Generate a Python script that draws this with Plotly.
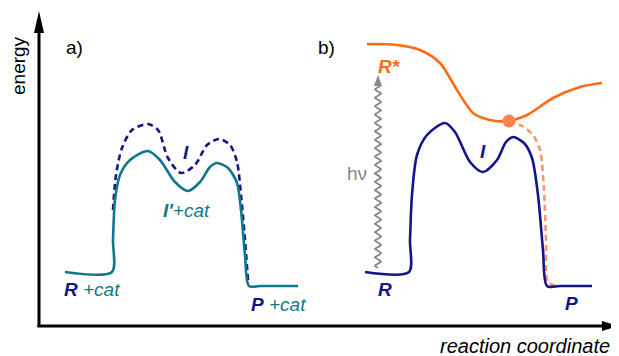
import numpy as np
import plotly.graph_objects as go

# ---- data (schematic energy profiles, x = reaction coordinate, y = drawn level) ----
# Panel a) catalysed pathway (solid teal) and uncatalysed pathway (dashed navy)
a_cat_x = [65, 112, 113, 115, 120, 130, 148, 160, 175, 188, 200, 210, 217, 228, 237, 241, 245, 249, 260, 298]
a_cat_y = [272, 272, 240, 200, 175, 160, 151, 160, 182, 191, 182, 167, 163, 168, 183, 210, 255, 286, 286, 286]
a_unc_x = [113, 116, 122, 132, 148, 158, 168, 181, 195, 207, 219, 230, 237, 241, 245, 248]
a_unc_y = [210, 175, 148, 130, 124, 130, 158, 173, 165, 145, 139, 145, 162, 195, 240, 280]

# Panel b) ground state (navy), excited state (orange), decay branch (dashed orange)
b_gs_x = [365, 409, 410, 412, 417, 427, 445, 455, 470, 483, 497, 506, 513, 524, 532, 538, 543, 547, 560, 592]
b_gs_y = [272, 272, 240, 195, 155, 135, 123, 132, 162, 172, 160, 142, 137, 143, 158, 195, 250, 286, 286, 286]
b_ex_x = [367, 397, 420, 440, 457, 473, 490, 507, 527, 553, 580, 602]
b_ex_y = [44, 45, 50, 63, 90, 113, 120, 121, 115, 98, 87, 83]
b_dec_x = [509, 522, 533, 540, 544, 546, 548, 557]
b_dec_y = [121, 126, 135, 150, 190, 240, 282, 286]
ci_x = [509]
ci_y = [121]

NAVY = "#14158a"
TEAL = "#11788a"
ORANGE = "#ff6a14"
LORANGE = "#ff9466"
GRAY = "#868686"
FONT = "Liberation Sans, Arial, sans-serif"
FS = 19
OFF = 8  # page body margin compensation

fig = go.Figure()

def line(x, y, color, dash="solid", width=2.6):
    fig.add_trace(go.Scatter(x=x, y=y, mode="lines",
                             line=dict(color=color, width=width, dash=dash,
                                       shape="spline", smoothing=0.8),
                             hoverinfo="skip", showlegend=False))

line(a_unc_x, a_unc_y, NAVY, dash="6px,4px")
line(a_cat_x, a_cat_y, TEAL)
line(b_dec_x, b_dec_y, LORANGE, dash="6px,4px")
line(b_gs_x, b_gs_y, NAVY)
line(b_ex_x, b_ex_y, ORANGE)
fig.add_trace(go.Scatter(x=ci_x, y=ci_y, mode="markers",
                         marker=dict(color="#f9844f", size=13, line=dict(width=0)),
                         hoverinfo="skip", showlegend=False))

# photon squiggle (hv) - decorative wavy arrow
wy = np.linspace(268, 86, 500)
wx = 378 + 3.0 * np.sin((wy - 268) / 8.4 * 2 * np.pi)
fig.add_trace(go.Scatter(x=wx, y=wy, mode="lines", line=dict(color=GRAY, width=1.8),
                         hoverinfo="skip", showlegend=False))
fig.add_shape(type="path", path="M 374 86 L 382 86 L 378 75 Z",
              fillcolor=GRAY, line=dict(width=0))

# axes
fig.add_shape(type="line", x0=39, y0=327, x1=39, y1=28, line=dict(color="black", width=3))
fig.add_shape(type="path", path="M 34 33 L 44 33 L 39 11 Z", fillcolor="black", line=dict(width=0))
fig.add_shape(type="line", x0=37.5, y0=326, x1=605, y1=326, line=dict(color="black", width=3))
fig.add_shape(type="path", path="M 602 321 L 602 331 L 618 326 Z", fillcolor="black", line=dict(width=0))

def txt(x, y, s, color="black", size=FS, xanchor="center", angle=0):
    fig.add_annotation(x=x, y=y, text=s, showarrow=False, xanchor=xanchor, yanchor="middle",
                       textangle=angle, font=dict(family=FONT, size=size, color=color))

txt(18, 66, "energy", angle=-90)
txt(64, 47, "a)", xanchor="left")
txt(316, 47, "b)", xanchor="left")
txt(612, 346, "<i>reaction coordinate</i>", size=20, xanchor="right")

txt(62, 289, f"<b><i>R</i></b> <span style='color:{TEAL}'><i>+cat</i></span>", color=NAVY, xanchor="left")
txt(249, 304, f"<b><i>P</i></b> <span style='color:{TEAL}'><i>+cat</i></span>", color=NAVY, xanchor="left")
txt(186, 152, "<b><i>I</i></b>", color=NAVY)
txt(161, 210, "<b><i>I'</i></b><i>+cat</i>", color=TEAL, xanchor="left")

txt(376, 66, "<b><i>R*</i></b>", color=ORANGE, xanchor="left")
txt(385, 289, "<b><i>R</i></b>", color=NAVY)
txt(571, 303, "<b><i>P</i></b>", color=NAVY)
txt(483, 151, "<b><i>I</i></b>", color=NAVY)
txt(357, 173, "hν", color=GRAY)

fig.update_layout(width=619, height=356, margin=dict(l=0, r=0, t=0, b=0),
                  paper_bgcolor="white", plot_bgcolor="white",
                  xaxis=dict(range=[OFF, 619 + OFF], visible=False, fixedrange=True),
                  yaxis=dict(range=[356 + OFF, OFF], visible=False, fixedrange=True))

fig.write_html("out.html", config={"displayModeBar": False})
